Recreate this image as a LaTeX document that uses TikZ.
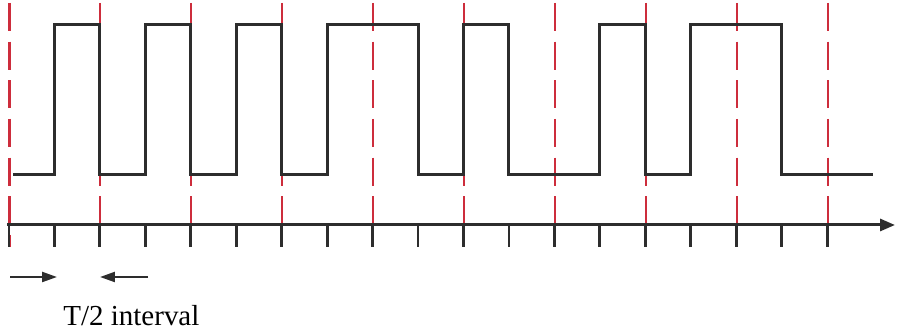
\documentclass[tikz,border=0pt]{standalone}
\usepackage{fontspec}
\setmainfont{Liberation Serif}
\usetikzlibrary{arrows.meta}
\definecolor{ink}{RGB}{45,45,45}
\definecolor{pen}{RGB}{205,45,60}

\begin{document}
\begin{tikzpicture}[x=0.02cm,y=-0.02cm,
  wave/.style={draw=ink,line width=1.7pt,line join=miter},
  axisline/.style={draw=ink,line width=1.7pt,-{Triangle[length=0.3cm,width=0.24cm]}},
  tickmark/.style={draw=ink,line width=1.6pt},
  guide/.style={draw=pen,line width=1.2pt,dash pattern=on 16pt off 6pt},
  marker/.style={draw=ink,line width=1.3pt,-{Triangle[length=0.3cm,width=0.2cm]}},
  label/.style={font=\fontsize{16.5}{18}\selectfont,inner sep=0pt}]

  \fill[white] (0,0) rectangle (920,333);
  \useasboundingbox (0,0) rectangle (920,333);

  % tick positions
  \foreach \i in {0,...,18}{
    \coordinate (t\i) at ({9+45.45*\i},225);
  }

  % red guide lines, every second tick
  \foreach \i in {0,2,...,18}{
    \draw[guide] (t\i) ++(0.5,-222) -- ++(0,244);
  }

  % square wave
  \draw[wave] (13,175)
    foreach \a/\b in {1/2,3/4,5/6,7/9,10/11,13/14,15/17}{
      -- ({9+45.45*\a},175) -- ({9+45.45*\a},25)
      -- ({9+45.45*\b},25) -- ({9+45.45*\b},175)
    } -- (873,175);

  % time axis
  \coordinate (ax0) at (7,225);
  \coordinate (ax1) at (895,225);
  \draw[axisline] (ax0) -- (ax1);
  \foreach \i in {0,...,18}{
    \draw[tickmark] (t\i) -- ++(0,22);
  }

  % interval arrows
  \coordinate (a1) at (10,277);
  \coordinate (a2) at (57,277);
  \coordinate (b1) at (148,277);
  \coordinate (b2) at (100,277);
  \draw[marker] (a1) -- (a2);
  \draw[marker] (b1) -- (b2);

  \node (lbl) [label,anchor=base west] at (63,326) {T/2 interval};
\end{tikzpicture}
\end{document}
